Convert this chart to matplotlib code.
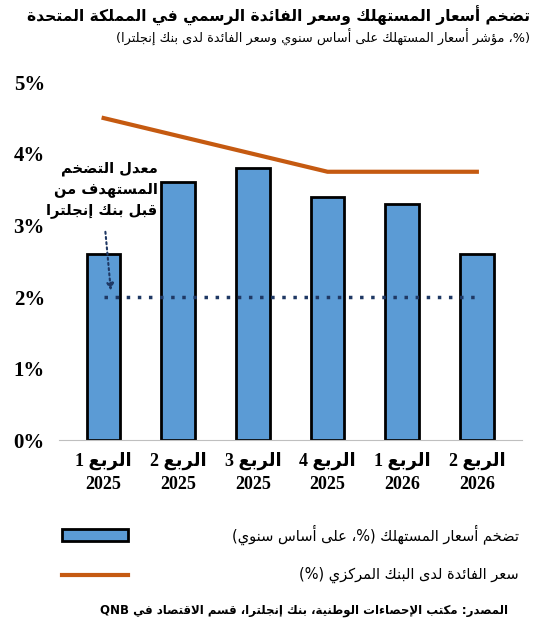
import re
import matplotlib
matplotlib.use("Agg")
import matplotlib.pyplot as plt
from matplotlib.patches import Rectangle
from matplotlib.lines import Line2D

# ---------- minimal Arabic shaping ----------
F = {  # isolated, final, initial, medial
 'ء':(0xFE80,),'آ':(0xFE81,0xFE82),'أ':(0xFE83,0xFE84),'ؤ':(0xFE85,0xFE86),
 'إ':(0xFE87,0xFE88),'ئ':(0xFE89,0xFE8A,0xFE8B,0xFE8C),'ا':(0xFE8D,0xFE8E),
 'ب':(0xFE8F,0xFE90,0xFE91,0xFE92),'ة':(0xFE93,0xFE94),'ت':(0xFE95,0xFE96,0xFE97,0xFE98),
 'ث':(0xFE99,0xFE9A,0xFE9B,0xFE9C),'ج':(0xFE9D,0xFE9E,0xFE9F,0xFEA0),
 'ح':(0xFEA1,0xFEA2,0xFEA3,0xFEA4),'خ':(0xFEA5,0xFEA6,0xFEA7,0xFEA8),
 'د':(0xFEA9,0xFEAA),'ذ':(0xFEAB,0xFEAC),'ر':(0xFEAD,0xFEAE),'ز':(0xFEAF,0xFEB0),
 'س':(0xFEB1,0xFEB2,0xFEB3,0xFEB4),'ش':(0xFEB5,0xFEB6,0xFEB7,0xFEB8),
 'ص':(0xFEB9,0xFEBA,0xFEBB,0xFEBC),'ض':(0xFEBD,0xFEBE,0xFEBF,0xFEC0),
 'ط':(0xFEC1,0xFEC2,0xFEC3,0xFEC4),'ظ':(0xFEC5,0xFEC6,0xFEC7,0xFEC8),
 'ع':(0xFEC9,0xFECA,0xFECB,0xFECC),'غ':(0xFECD,0xFECE,0xFECF,0xFED0),
 'ف':(0xFED1,0xFED2,0xFED3,0xFED4),'ق':(0xFED5,0xFED6,0xFED7,0xFED8),
 'ك':(0xFED9,0xFEDA,0xFEDB,0xFEDC),'ل':(0xFEDD,0xFEDE,0xFEDF,0xFEE0),
 'م':(0xFEE1,0xFEE2,0xFEE3,0xFEE4),'ن':(0xFEE5,0xFEE6,0xFEE7,0xFEE8),
 'ه':(0xFEE9,0xFEEA,0xFEEB,0xFEEC),'و':(0xFEED,0xFEEE),'ى':(0xFEEF,0xFEF0),
 'ي':(0xFEF1,0xFEF2,0xFEF3,0xFEF4)}
LA = {'ا':(0xFEFB,0xFEFC),'أ':(0xFEF7,0xFEF8),'إ':(0xFEF9,0xFEFA),'آ':(0xFEF5,0xFEF6)}

def dual(c):
    return c in F and len(F[c]) == 4

def shape(s):
    out = []
    i = 0
    n = len(s)
    while i < n:
        c = s[i]
        if c not in F:
            out.append(c); i += 1; continue
        prev = s[i-1] if i > 0 else ''
        pj = dual(prev)
        if c == 'ل' and i+1 < n and s[i+1] in LA:
            out.append(chr(LA[s[i+1]][1 if pj else 0])); i += 2; continue
        nxt = s[i+1] if i+1 < n else ''
        nj = nxt in F and dual(c)
        forms = F[c]
        if len(forms) == 1:
            k = 0
        elif pj and nj:
            k = 3
        elif pj:
            k = 1
        elif nj:
            k = 2
        else:
            k = 0
        out.append(chr(forms[k])); i += 1
    return ''.join(out)

MIR = {'(':')', ')':'('}
def ar(s):
    lines = []
    for line in s.split('\n'):
        v = shape(line)[::-1]
        v = ''.join(MIR.get(ch, ch) for ch in v)
        v = re.sub(r'[0-9A-Za-z.%]+', lambda m: m.group(0)[::-1], v)
        lines.append(v)
    return '\n'.join(lines)

# ---------- data ----------
quarters = ['الربع 1', 'الربع 2', 'الربع 3', 'الربع 4', 'الربع 1', 'الربع 2']
years = ['2025', '2025', '2025', '2025', '2026', '2026']
cpi = [2.6, 3.6, 3.8, 3.4, 3.3, 2.6]
bank_rate = [4.5, 4.25, 4.0, 3.75, 3.75, 3.75]
target = [2.0] * 6
yticks = [0, 1, 2, 3, 4, 5]
ytick_labels = ['0%', '1%', '2%', '3%', '4%', '5%']

title = 'تضخم أسعار المستهلك وسعر الفائدة الرسمي في المملكة المتحدة'
subtitle = '(%، مؤشر أسعار المستهلك على أساس سنوي وسعر الفائدة لدى بنك إنجلترا)'
target_note = 'معدل التضخم\nالمستهدف من\nقبل بنك إنجلترا'
leg_cpi = 'تضخم أسعار المستهلك (%، على أساس سنوي)'
leg_rate = 'سعر الفائدة لدى البنك المركزي (%)'
source = 'المصدر: مكتب الإحصاءات الوطنية، بنك إنجلترا، قسم الاقتصاد في QNB'

AF = 'DejaVu Sans'
NF = 'Liberation Serif'

fig = plt.figure(figsize=(5.35, 6.28), dpi=100)
ax = fig.add_axes([0.11, 0.299, 0.865, 0.57])
x = list(range(len(cpi)))
ax.bar(x, cpi, width=0.45, color='#5B9BD5', edgecolor='black', linewidth=2, zorder=2)
ax.plot(x, bank_rate, color='#C55A11', linewidth=3, zorder=3)
ax.plot(x, target, color='#1F3864', linewidth=2.5, linestyle=(0, (1, 2.2)), zorder=3)
ax.set_xlim(-0.6, 5.6)
ax.set_ylim(0, 5)
ax.set_yticks(yticks)
ax.set_yticklabels(ytick_labels, fontfamily=NF, fontweight='bold', fontsize=15)
ax.set_xticks(x)
ax.set_xticklabels([ar(q) + '\n' + y for q, y in zip(quarters, years)],
                   fontfamily=[NF, AF], fontweight='bold', fontsize=13, linespacing=1.5)
ax.tick_params(length=0, pad=8)
ax.tick_params(axis='y', pad=10)
for s in ['top', 'right', 'left']:
    ax.spines[s].set_visible(False)
ax.spines['bottom'].set_color('#BFBFBF')

ax.annotate('', xy=(0.1, 2.05), xytext=(0.02, 2.95),
            arrowprops=dict(arrowstyle='-|>', color='#1F3864', lw=1.5, linestyle=(0, (1, 1.5))))
ax.text(0.72, 3.5, ar(target_note), ha='right', va='center', fontfamily=AF,
        fontweight='bold', fontsize=10.5, linespacing=1.4, zorder=5,
        bbox=dict(facecolor='white', edgecolor='none', pad=1))

fig.text(0.99, 0.975, ar(title), ha='right', va='center', fontfamily=AF, fontweight='bold', fontsize=11.2)
fig.text(0.99, 0.94, ar(subtitle), ha='right', va='center', fontfamily=AF, fontsize=9.3)

fig.patches.append(Rectangle((0.115, 0.138), 0.125, 0.02, transform=fig.transFigure,
                             facecolor='#5B9BD5', edgecolor='black', linewidth=2))
fig.lines.append(Line2D([0.115, 0.24], [0.085, 0.085], transform=fig.transFigure,
                        color='#C55A11', linewidth=3))
fig.text(0.97, 0.148, ar(leg_cpi), ha='right', va='center', fontfamily=AF, fontsize=10.5)
fig.text(0.97, 0.085, ar(leg_rate), ha='right', va='center', fontfamily=AF, fontsize=10.5)
fig.text(0.95, 0.028, ar(source), ha='right', va='center', fontfamily=AF, fontweight='bold', fontsize=8.5)

fig.savefig('out.png', dpi=100)
